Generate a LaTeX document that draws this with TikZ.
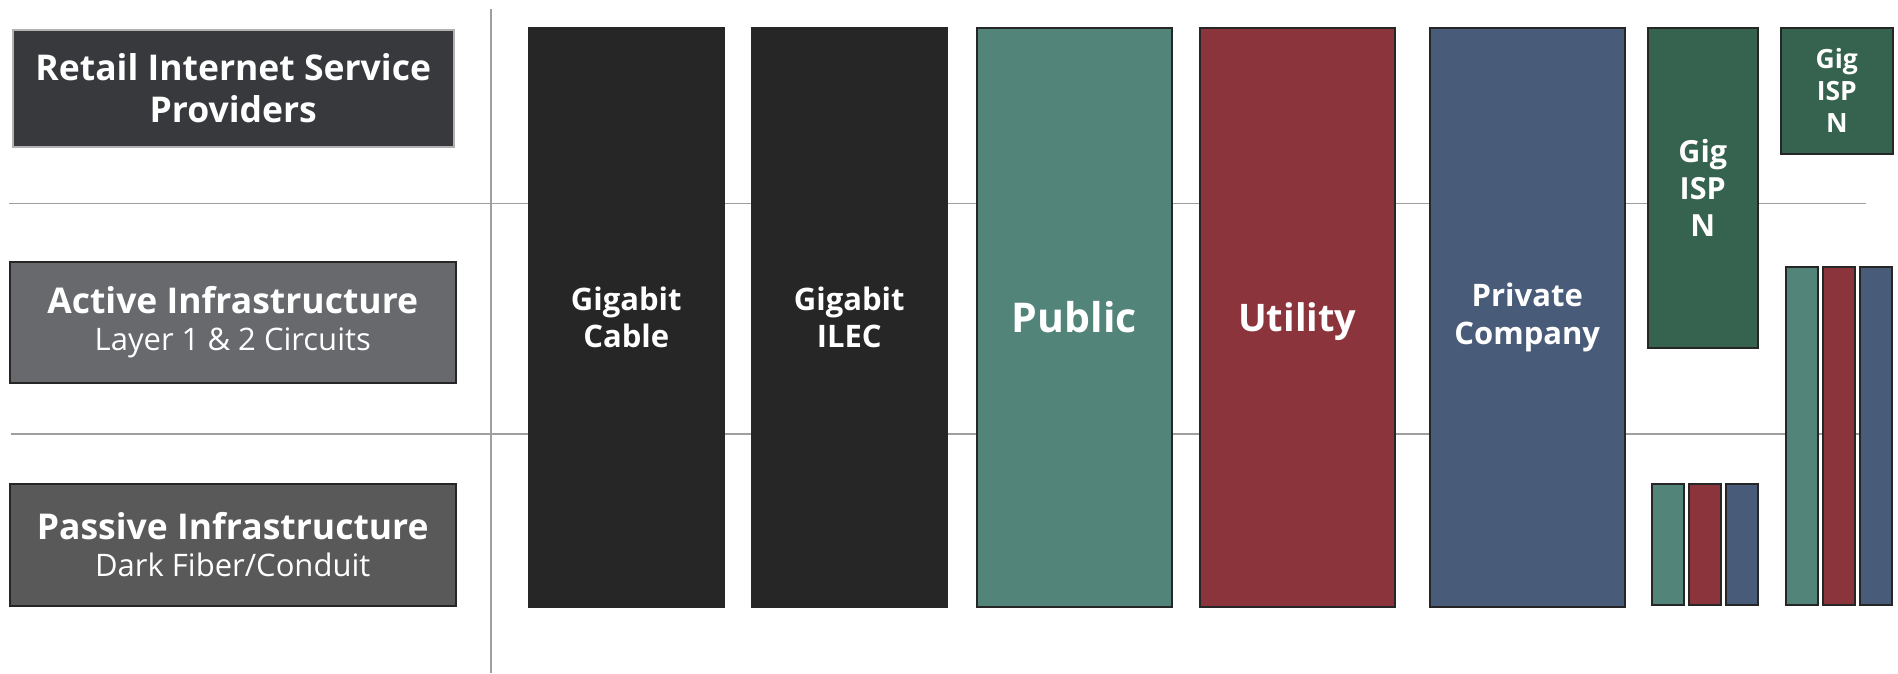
\documentclass[tikz,border=0pt]{standalone}
\usepackage{fontspec}
\setmainfont{Open Sans}
\definecolor{retailgray}{HTML}{37393C}
\definecolor{activegray}{HTML}{67696D}
\definecolor{passivegray}{HTML}{59595A}
\definecolor{gigablack}{HTML}{262626}
\definecolor{publicteal}{HTML}{52847A}
\definecolor{utilityred}{HTML}{8B343B}
\definecolor{privateblue}{HTML}{485B79}
\definecolor{ispgreen}{HTML}{36634F}
\begin{document}
\begin{tikzpicture}[x=1pt, y=-1pt,
			layer box/.style={rectangle, draw=black!85, line width=1.5pt, text=white, align=center, inner sep=0pt, anchor=north west},
			org box/.style={layer box, minimum width=195pt, minimum height=579pt},
			bar/.style={rectangle, draw=black!85, line width=1.5pt, inner sep=0pt, anchor=north west, minimum width=32pt},
			sep line/.style={draw=gray!75, line width=1.2pt}]
			\useasboundingbox (0,0) rectangle (1898,673);
			\draw[sep line] (491,9) -- (491,673);
			\draw[sep line] (9,203.5) -- (1866,203.5);
			\draw[sep line] (11,434) -- (1866,434);

			\node[layer box, draw=gray!60, fill=retailgray, minimum width=441pt, minimum height=117pt,
			  font=\bfseries\fontsize{35.5}{42}\selectfont] (retail) at (12,29)
			  {Retail Internet Service\\Providers};
			\node[layer box, fill=activegray, minimum width=446pt, minimum height=121pt,
			  font=\fontsize{35.5}{37}\selectfont] (active) at (9,261)
			  {\textbf{Active Infrastructure}\\{\fontsize{31}{37}\selectfont Layer 1 \& 2 Circuits}};
			\node[layer box, fill=passivegray, minimum width=446pt, minimum height=122pt,
			  font=\fontsize{35.5}{37}\selectfont] (passive) at (9,483)
			  {\textbf{Passive Infrastructure}\\{\fontsize{31}{37}\selectfont Dark Fiber/Conduit}};

			\node[org box, fill=gigablack, font=\bfseries\fontsize{31}{37.5}\selectfont] (cable) at (528,27) {Gigabit\\Cable};
			\node[org box, fill=gigablack, font=\bfseries\fontsize{31}{37.5}\selectfont] (ilec) at (751,27) {Gigabit\\ILEC};
			\node[org box, fill=publicteal, text depth=0pt, font=\bfseries\fontsize{41}{48}\selectfont] (public) at (976,27) {Public};
			\node[org box, fill=utilityred, text depth=0pt, font=\bfseries\fontsize{38}{45}\selectfont] (utility) at (1199,27) {Utility};
			\node[org box, fill=privateblue, font=\bfseries\fontsize{31}{37.5}\selectfont] (private) at (1429,27) {Private\\Company};

			\node[layer box, fill=ispgreen, minimum width=110pt, minimum height=320pt,
			  font=\bfseries\fontsize{30.5}{37}\selectfont] (gigisp) at (1647,27) {Gig\\ISP\\N};
			\node[layer box, fill=ispgreen, minimum width=112pt, minimum height=126pt,
			  font=\bfseries\fontsize{26.5}{32}\selectfont] (smallisp) at (1780,27) {Gig\\ISP\\N};

			\foreach \c [count=\i from 0] in {publicteal, utilityred, privateblue}{
			  \node[bar, fill=\c, minimum height=121pt] (low\i) at (1651+\i*37, 483) {};
			  \node[bar, fill=\c, minimum height=338pt] (high\i) at (1785+\i*37, 266) {};
			}
		\end{tikzpicture}
\end{document}
